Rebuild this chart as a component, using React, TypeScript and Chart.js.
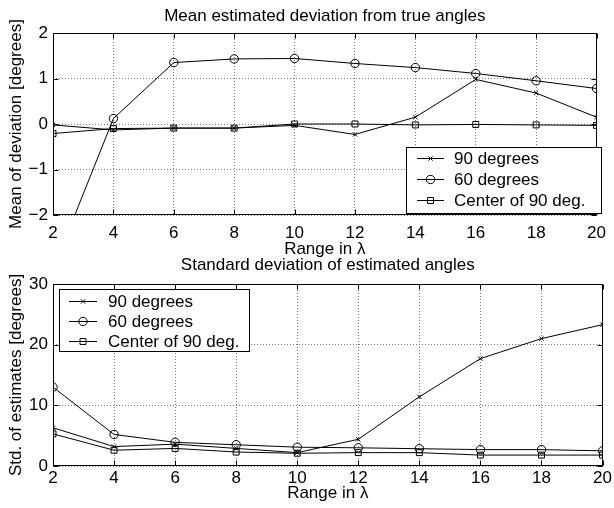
import React, { useEffect, useRef } from "react";
import { Chart, registerables } from "chart.js";

Chart.register(...registerables);

// ---------- data ----------
const rangeLambda = [2, 4, 6, 8, 10, 12, 14, 16, 18, 20];
const seriesNames = ["90 degrees", "60 degrees", "Center of 90 deg."];
const seriesMarkers = ["crossRot", "circle", "rect"];

const meanDev90 = [-0.02, -0.13, -0.09, -0.09, -0.03, -0.23, 0.15, 0.98, 0.68, 0.15];
const meanDev60 = [-3.2, 0.12, 1.35, 1.43, 1.44, 1.33, 1.24, 1.11, 0.95, 0.78];
const meanDevCenter = [-0.21, -0.1, -0.09, -0.09, 0.0, 0.0, -0.02, -0.01, -0.02, -0.03];

const std90 = [6.3, 3.2, 3.6, 2.9, 2.2, 4.4, 11.4, 17.7, 21.0, 23.3];
const std60 = [13.0, 5.2, 3.9, 3.5, 3.1, 3.0, 2.85, 2.7, 2.7, 2.5];
const stdCenter = [5.3, 2.6, 2.9, 2.3, 2.1, 2.2, 2.2, 1.8, 1.8, 1.8];

const FONT = "'Liberation Sans', Arial, Helvetica, sans-serif";
const FS = 17;

type LegendCfg = {
  x1: number; y1: number; x2: number; y2: number;
  rows: number[]; lineX1: number; lineX2: number; textX: number;
};

function drawMarker(ctx: CanvasRenderingContext2D, style: string, x: number, y: number, r: number) {
  ctx.beginPath();
  if (style === "circle") {
    ctx.arc(x, y, r, 0, Math.PI * 2);
  } else if (style === "rect") {
    const s = Math.SQRT1_2 * r;
    ctx.rect(x - s, y - s, 2 * s, 2 * s);
  } else {
    const o = Math.SQRT1_2 * r;
    ctx.moveTo(x - o, y - o); ctx.lineTo(x + o, y + o);
    ctx.moveTo(x - o, y + o); ctx.lineTo(x + o, y - o);
  }
  ctx.stroke();
}

const decoPlugin = {
  id: "deco",
  afterDatasetsDraw(chart: any) {
    const ctx: CanvasRenderingContext2D = chart.ctx;
    const a = chart.chartArea;
    const L = Math.round(a.left) + 0.5, R = Math.round(a.right) - 0.5;
    const T = Math.round(a.top) + 0.5, B = Math.round(a.bottom) - 0.5;
    ctx.save();
    ctx.strokeStyle = "#000";
    ctx.lineWidth = 1;
    ctx.setLineDash([]);
    ctx.strokeRect(L, T, R - L, B - T);
    const tl = 5;
    const xs = chart.scales.x, ys = chart.scales.y;
    ctx.beginPath();
    xs.ticks.forEach((t: any) => {
      const px = Math.round(xs.getPixelForValue(t.value)) + 0.5;
      ctx.moveTo(px, B); ctx.lineTo(px, B - tl);
      ctx.moveTo(px, T); ctx.lineTo(px, T + tl);
    });
    ys.ticks.forEach((t: any) => {
      const py = Math.round(ys.getPixelForValue(t.value)) + 0.5;
      ctx.moveTo(L, py); ctx.lineTo(L + tl, py);
      ctx.moveTo(R, py); ctx.lineTo(R - tl, py);
    });
    ctx.stroke();
    ctx.restore();
  },
  afterDraw(chart: any) {
    const o = chart.options.plugins.deco;
    const ctx: CanvasRenderingContext2D = chart.ctx;
    const a = chart.chartArea;
    ctx.save();
    ctx.fillStyle = "#000";
    ctx.font = `${FS}px ${FONT}`;
    ctx.textBaseline = "alphabetic";
    ctx.textAlign = "center";
    const cx = (a.left + a.right) / 2;
    ctx.fillText(o.title, cx, o.titleY);
    ctx.fillText(o.xlabel, cx, o.xlabelY);
    ctx.save();
    ctx.translate(o.ylabelX, (a.top + a.bottom) / 2);
    ctx.rotate(-Math.PI / 2);
    ctx.fillText(o.ylabel, 0, 0);
    ctx.restore();

    // legend
    const lg: LegendCfg = o.legend;
    ctx.fillStyle = "#fff";
    ctx.fillRect(lg.x1, lg.y1, lg.x2 - lg.x1, lg.y2 - lg.y1);
    ctx.strokeStyle = "#000";
    ctx.lineWidth = 1;
    ctx.strokeRect(lg.x1 + 0.5, lg.y1 + 0.5, lg.x2 - lg.x1, lg.y2 - lg.y1);
    chart.data.datasets.forEach((ds: any, i: number) => {
      const y = lg.rows[i];
      ctx.strokeStyle = "#000";
      ctx.beginPath();
      ctx.moveTo(lg.lineX1, Math.round(y) + 0.5);
      ctx.lineTo(lg.lineX2, Math.round(y) + 0.5);
      ctx.stroke();
      drawMarker(ctx, ds.pointStyle, (lg.lineX1 + lg.lineX2) / 2, Math.round(y) + 0.5, ds.pointRadius);
      ctx.fillStyle = "#000";
      ctx.textAlign = "left";
      ctx.fillText(ds.label, lg.textX, y + 6);
    });
    ctx.restore();
  },
};

function buildConfig(p: {
  series: number[][]; yMin: number; yMax: number; yStep: number;
  title: string; xlabel: string; ylabel: string;
  titleY: number; xlabelY: number; areaTop: number; xAxisH: number; tickPad: number;
  legend: LegendCfg;
}): any {
  const radii = [3, 4.2, 4.2];
  return {
    type: "line",
    data: {
      datasets: p.series.map((vals, i) => ({
        label: seriesNames[i],
        data: rangeLambda.map((x, j) => ({ x, y: vals[j] })),
        borderColor: "#000",
        borderWidth: 1,
        pointStyle: seriesMarkers[i],
        pointRadius: radii[i],
        pointBorderColor: "#000",
        pointBackgroundColor: "rgba(0,0,0,0)",
        pointBorderWidth: 1,
        tension: 0,
        fill: false,
      })),
    },
    options: {
      responsive: false,
      animation: false,
      events: [],
      layout: { padding: { left: 0, right: 11, top: p.areaTop, bottom: 0 } },
      plugins: {
        legend: { display: false },
        tooltip: { enabled: false },
        title: { display: false },
        deco: {
          title: p.title, xlabel: p.xlabel, ylabel: p.ylabel,
          titleY: p.titleY, xlabelY: p.xlabelY, ylabelX: 21,
          legend: p.legend,
        },
      },
      scales: {
        x: {
          type: "linear",
          min: 2, max: 20,
          ticks: {
            stepSize: 2, color: "#000", padding: p.tickPad, maxRotation: 0, autoSkip: false,
            font: { family: FONT, size: FS },
          },
          grid: { color: "#777", lineWidth: 1, drawTicks: false },
          border: { display: false, dash: [1, 2] },
          afterFit: (s: any) => { s.height = p.xAxisH; },
        },
        y: {
          type: "linear",
          min: p.yMin, max: p.yMax,
          ticks: {
            stepSize: p.yStep, color: "#000", padding: 5,
            font: { family: FONT, size: FS },
            callback: (v: any) => String(v).replace("-", "\u2212"),
          },
          grid: { color: "#777", lineWidth: 1, drawTicks: false },
          border: { display: false, dash: [1, 2] },
          afterFit: (s: any) => { s.width = 53; },
        },
      },
    },
    plugins: [decoPlugin],
  };
}

function Plot(props: { top: number; height: number; config: () => any }) {
  const ref = useRef<HTMLCanvasElement | null>(null);
  useEffect(() => {
    const chart = new Chart(ref.current as HTMLCanvasElement, props.config());
    return () => chart.destroy();
  }, []);
  return (
    <canvas
      ref={ref}
      width={614}
      height={props.height}
      style={{ position: "absolute", left: 0, top: props.top, width: 614, height: props.height }}
    />
  );
}

export default function App() {
  return (
    <div style={{ position: "fixed", left: 0, top: 0, width: 614, height: 508, background: "#fff", overflow: "hidden" }}>
      <Plot
        top={0}
        height={262}
        config={() =>
          buildConfig({
            series: [meanDev90, meanDev60, meanDevCenter],
            yMin: -2, yMax: 2, yStep: 1,
            title: "Mean estimated deviation from true angles",
            xlabel: "Range in \u03bb",
            ylabel: "Mean of deviation [degrees]",
            titleY: 21, xlabelY: 254, areaTop: 33, xAxisH: 47, tickPad: 8,
            legend: { x1: 406, y1: 147, x2: 601, y2: 213, rows: [158, 179, 200], lineX1: 417, lineX2: 444, textX: 454 },
          })
        }
      />
      <Plot
        top={250}
        height={258}
        config={() =>
          buildConfig({
            series: [std90, std60, stdCenter],
            yMin: 0, yMax: 30, yStep: 10,
            title: "Standard deviation of estimated angles",
            xlabel: "Range in \u03bb",
            ylabel: "Std. of estimates [degrees]",
            titleY: 20, xlabelY: 248, areaTop: 34, xAxisH: 42, tickPad: 2,
            legend: { x1: 59, y1: 39, x2: 249, y2: 101, rows: [51, 71, 91], lineX1: 69, lineX2: 97, textX: 108 },
          })
        }
      />
    </div>
  );
}
